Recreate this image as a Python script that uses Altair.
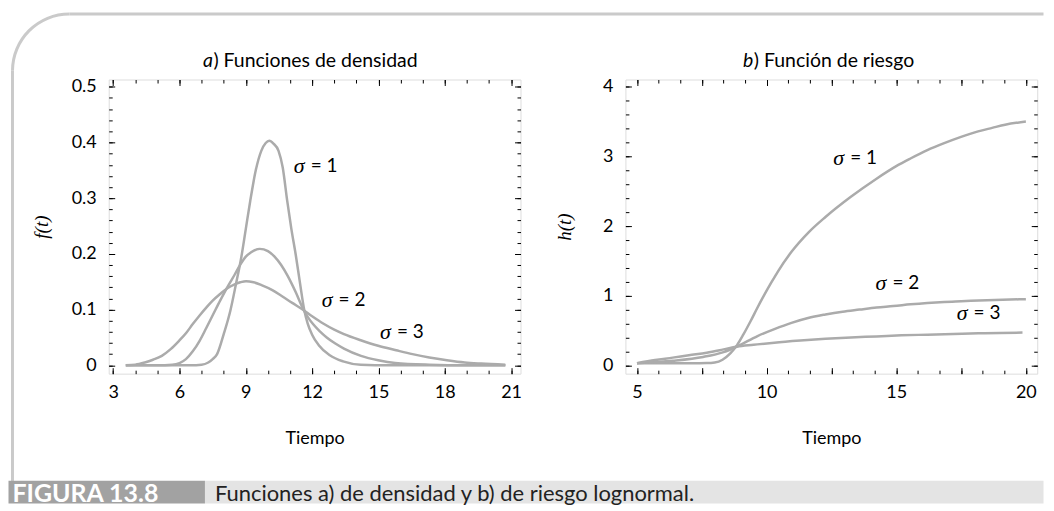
import altair as alt
import pandas as pd

# ---------------- data ----------------
# a) density functions f(t)
dens_t1 = [3.57, 5.0, 6.5, 7.0, 7.3, 7.5, 7.7, 8.0, 8.3, 8.55, 8.8, 9.0, 9.2, 9.45, 9.7, 9.9, 10.06,
           10.25, 10.48, 10.67, 10.87, 11.06, 11.26, 11.45, 11.65, 11.8, 12.0, 12.3, 12.8, 13.4, 14.2, 15.5, 17.5, 20.74]
dens_f1 = [0, 0, 0, 0.001, 0.005, 0.011, 0.02, 0.056, 0.098, 0.145, 0.195, 0.245, 0.295, 0.35, 0.385, 0.399, 0.403,
           0.398, 0.385, 0.355, 0.296, 0.245, 0.198, 0.148, 0.098, 0.075, 0.055, 0.036, 0.018, 0.007, 0.001, 0, 0, 0]

dens_t2 = [3.57, 5.0, 5.67, 6.0, 6.29, 6.6, 6.91, 7.2, 7.53, 7.85, 8.16, 8.5, 8.77, 9.0, 9.24, 9.63, 10.0,
           10.3, 10.6, 10.9, 11.26, 11.57, 11.8, 12.04, 12.35, 12.66, 13.05, 13.44, 14.21, 14.99, 15.76, 17.3, 19.0, 20.74]
dens_f2 = [0, 0, 0.001, 0.004, 0.011, 0.025, 0.044, 0.066, 0.092, 0.117, 0.14, 0.163, 0.182, 0.195, 0.203, 0.209, 0.205,
           0.195, 0.18, 0.16, 0.131, 0.103, 0.087, 0.074, 0.061, 0.05, 0.039, 0.03, 0.017, 0.009, 0.004, 0.001, 0, 0]

dens_t3 = [3.57, 4.0, 4.43, 4.8, 5.2, 5.6, 5.98, 6.3, 6.6, 6.9, 7.22, 7.5, 7.84, 8.15, 8.47, 8.75, 9.01, 9.35,
           9.71, 10.2, 10.64, 11.1, 11.57, 12.0, 12.5, 13.0, 13.44, 14.2, 14.99, 15.8, 16.54, 17.3, 18.1, 18.9, 19.65, 20.74]
dens_f3 = [0, 0.001, 0.005, 0.01, 0.017, 0.029, 0.044, 0.058, 0.074, 0.089, 0.104, 0.116, 0.128, 0.138, 0.145, 0.149, 0.151, 0.149,
           0.144, 0.135, 0.124, 0.112, 0.1, 0.088, 0.075, 0.064, 0.056, 0.045, 0.035, 0.027, 0.02, 0.014, 0.009, 0.005, 0.003, 0.001]

# b) hazard functions h(t)
haz_t1 = [5.0, 6.0, 7.0, 7.69, 8.0, 8.3, 8.6, 8.86, 9.1, 9.39, 9.65, 9.91, 10.2, 10.44, 10.96, 11.62,
          12.27, 13.25, 14.24, 15.0, 15.55, 16.2, 16.85, 17.5, 18.16, 18.7, 19.2, 20.0]
haz_h1 = [0.03, 0.03, 0.03, 0.032, 0.04, 0.08, 0.17, 0.29, 0.44, 0.64, 0.83, 1.01, 1.2, 1.35, 1.63, 1.91,
          2.13, 2.42, 2.68, 2.86, 2.97, 3.09, 3.19, 3.28, 3.36, 3.41, 3.455, 3.5]

haz_t2 = [5.0, 6.38, 7.55, 8.34, 8.86, 9.65, 10.3, 10.96, 11.6, 12.27, 12.93, 13.58, 14.24, 14.89, 15.55, 16.2,
          16.85, 17.51, 18.5, 20.0]
haz_h2 = [0.03, 0.065, 0.12, 0.19, 0.27, 0.42, 0.52, 0.61, 0.68, 0.73, 0.77, 0.80, 0.83, 0.85, 0.875, 0.895,
          0.91, 0.92, 0.935, 0.95]

haz_t3 = [5.0, 5.7, 6.38, 7.0, 7.69, 8.3, 8.86, 9.5, 10.3, 11.3, 12.27, 13.25, 14.24, 15.2, 16.2, 17.2, 18.17, 19.0, 19.87]
haz_h3 = [0.03, 0.075, 0.11, 0.145, 0.18, 0.225, 0.27, 0.295, 0.325, 0.355, 0.38, 0.40, 0.415, 0.43, 0.44, 0.45, 0.46, 0.465, 0.47]

series_names = ["σ = 1", "σ = 2", "σ = 3"]

# curve labels (left edge x, centre y) in data units
dens_lab_x = [11.17, 12.43, 15.07]
dens_lab_y = [0.357, 0.117, 0.059]
haz_lab_x = [12.57, 14.2, 17.33]
haz_lab_y = [2.98, 1.18, 0.755]
lab_eq = ["= 1", "= 2", "= 3"]

# axis ticks / labels
dens_x_major = [3, 6, 9, 12, 15, 18, 21]
dens_x_minor = list(range(3, 22))
dens_y_major = [round(0.1 * i, 2) for i in range(6)]
dens_y_minor = [round(0.02 * i, 2) for i in range(26)]
haz_x_major = [5 + 2.5 * i for i in range(7)]
haz_x_minor = [round(5 + 2.5 / 3 * i, 4) for i in range(19)]
haz_y_major = [0, 1, 2, 3, 4]
haz_y_minor = [round(0.2 * i, 2) for i in range(21)]

titles = [("a", ") Funciones de densidad"), ("b", ") Función de riesgo")]
x_title = "Tiempo"
caption_tag = "FIGURA 13.8"
caption_text = "Funciones a) de densidad y b) de riesgo lognormal."

# ---------------- layout constants ----------------
W, H = 413, 295
FONT = "Lato"
CURVE = "#ababab"
FRAME_GREY = "#cacaca"


def long_df(ts, vs):
    rows = []
    for name, t, v in zip(series_names, ts, vs):
        rows += [{"s": name, "t": a, "v": b} for a, b in zip(t, v)]
    return pd.DataFrame(rows)


def panel(df, lab_x, lab_y, xdom, ydom, xmaj, xmin, ymaj, ymin, xlabexpr, yfmt,
          ytitle, ytitle_x, title_pair, title_x, extra=None):
    xs = alt.Scale(domain=xdom, nice=False, zero=False)
    ys = alt.Scale(domain=ydom, nice=False, zero=False)
    common = dict(ticks=False, tickSize=0, domain=False, grid=True, gridColor="black",
                  gridOpacity=1, gridWidth=1)
    xaxis = alt.Axis(orient="bottom", values=xmaj, labelExpr=xlabexpr, gridDash=[6, H - 12],
                     labelFont=FONT, labelFontSize=18, labelColor="black", labelPadding=10,
                     title=x_title, titleFont=FONT, titleFontSize=18, titleFontWeight="normal",
                     titleColor="black", titleX=W / 2, titleY=65, titleBaseline="middle",
                     titleAlign="center", **common)
    yaxis = alt.Axis(orient="left", values=ymaj, format=yfmt, gridDash=[6, W - 12],
                     labelFont=FONT, labelFontSize=18, labelColor="black", labelPadding=12.5,
                     title=ytitle, titleFont="Liberation Serif", titleFontStyle="italic",
                     titleFontSize=19, titleFontWeight="normal", titleColor="black",
                     titleX=ytitle_x, titleY=H / 2, titleAngle=-90, titleBaseline="middle",
                     titleAlign="center", **common)
    lines = alt.Chart(df).mark_line(color=CURVE, strokeWidth=2.5, interpolate="monotone").encode(
        x=alt.X("t:Q", scale=xs, axis=xaxis),
        y=alt.Y("v:Q", scale=ys, axis=yaxis),
        detail="s:N",
    )
    ann = pd.DataFrame({"x": lab_x, "y": lab_y, "sig": ["σ"] * 3, "eq": lab_eq})
    xaxis2 = alt.Axis(orient="top", values=xmin, labels=False, title=None,
                      gridDash=[3.5, H - 7], **common)
    yaxis2 = alt.Axis(orient="right", values=ymin, labels=False, title=None,
                      gridDash=[3.5, W - 7], **common)
    sig = alt.Chart(ann).mark_text(font="Liberation Serif", fontStyle="italic", fontSize=22,
                                   align="left", baseline="middle", color="black").encode(
        x=alt.X("x:Q", scale=xs, axis=xaxis2),
        y=alt.Y("y:Q", scale=ys, axis=yaxis2),
        text="sig:N",
    )
    eq = alt.Chart(ann).mark_text(font=FONT, fontSize=19, align="left", baseline="middle",
                                  dx=17, color="black").encode(
        x=alt.X("x:Q", scale=xs, axis=None),
        y=alt.Y("y:Q", scale=ys, axis=None),
        text="eq:N",
    )
    one = pd.DataFrame({"k": [0]})
    t_a = alt.Chart(one).mark_text(font=FONT, fontStyle="italic", fontSize=19.5, align="right",
                                   baseline="middle", color="black", text=title_pair[0]).encode(
        x=alt.value(title_x), y=alt.value(-19))
    t_b = alt.Chart(one).mark_text(font=FONT, fontSize=19.5, align="left", baseline="middle",
                                   color="black", text=title_pair[1]).encode(
        x=alt.value(title_x + 0.5), y=alt.value(-19))
    layers = list(extra or []) + [lines, sig, eq, t_a, t_b]
    return alt.layer(*layers).properties(width=W, height=H).resolve_axis(
        x="independent", y="independent")


# ---- decorations (page frame and caption), relative to left plot origin ----
OX, OY = 100.5, 69.7   # svg position of left plot origin
SVG_W, SVG_H = 1038, 495
BAND_TOP = 472
one = pd.DataFrame({"k": [0]})


def rx(v):
    return v - OX


def ry(v):
    return v - OY


deco = [
    alt.Chart(one).mark_rect(opacity=0).encode(
        x=alt.value(rx(0)), x2=alt.value(rx(SVG_W)), y=alt.value(ry(0)), y2=alt.value(ry(SVG_H))),
    alt.Chart(one).mark_rule(color=FRAME_GREY, strokeWidth=3).encode(
        x=alt.value(rx(61)), x2=alt.value(rx(SVG_W)), y=alt.value(ry(4))),
    alt.Chart(one).mark_rule(color=FRAME_GREY, strokeWidth=3).encode(
        x=alt.value(rx(4)), y=alt.value(ry(61)), y2=alt.value(ry(BAND_TOP + 1))),
    alt.Chart(one).mark_arc(color=FRAME_GREY, innerRadius=55.5, outerRadius=58.5,
                            theta=4.7124, theta2=6.2832).encode(
        x=alt.value(rx(61)), y=alt.value(ry(61))),
    alt.Chart(one).mark_rect(color="#e4e4e4").encode(
        x=alt.value(rx(197)), x2=alt.value(rx(SVG_W)), y=alt.value(ry(BAND_TOP)), y2=alt.value(ry(SVG_H))),
    alt.Chart(one).mark_rect(color="#a2a2a2").encode(
        x=alt.value(rx(0)), x2=alt.value(rx(197)), y=alt.value(ry(BAND_TOP)), y2=alt.value(ry(SVG_H))),
    alt.Chart(one).mark_text(font=FONT, fontWeight="bold", fontSize=25, color="white",
                             align="left", baseline="middle", text=caption_tag).encode(
        x=alt.value(rx(4)), y=alt.value(ry(485))),
    alt.Chart(one).mark_text(font=FONT, fontSize=22, color="#222222",
                             align="left", baseline="middle", text=caption_text).encode(
        x=alt.value(rx(207)), y=alt.value(ry(485))),
]

left = panel(long_df([dens_t1, dens_t2, dens_t3], [dens_f1, dens_f2, dens_f3]),
             dens_lab_x, dens_lab_y, [2.797, 21.428], [-0.01504, 0.51306],
             dens_x_major, dens_x_minor, dens_y_major, dens_y_minor,
             "datum.label", ".1~f", "f(t)", -67.2, titles[0], 104.5, extra=deco)

right = panel(long_df([haz_t1, haz_t2, haz_t3], [haz_h1, haz_h2, haz_h3]),
              haz_lab_x, haz_lab_y, [4.554, 20.438], [-0.1203, 4.1043],
              haz_x_major, haz_x_minor, haz_y_major, haz_y_minor,
              "datum.value % 5 === 0 ? datum.label : ''", "~g", "h(t)", -60.7, titles[1], 128.3)

chart = alt.hconcat(left, right, spacing=105.2, bounds="flush", padding=0).configure_view(
    stroke="black", strokeWidth=1.3).configure(font=FONT)

chart.save("out.html", embed_options={"renderer": "svg", "actions": False})
